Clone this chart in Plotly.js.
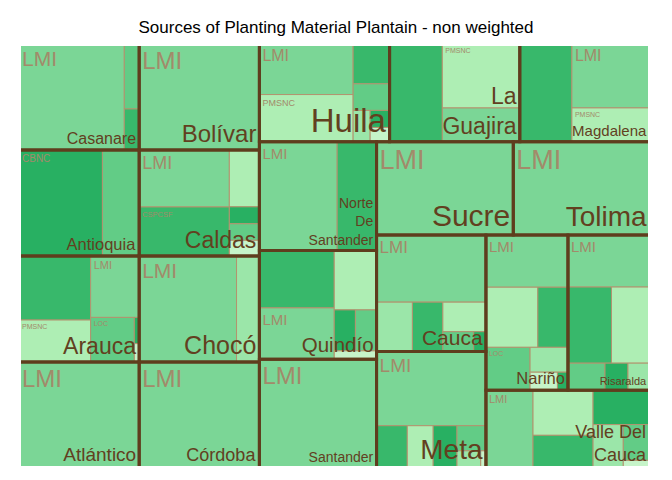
<!DOCTYPE html>
<html><head><meta charset="utf-8">
<script src="https://cdn.plot.ly/plotly-3.0.1.min.js"></script>
<style>html,body{margin:0;padding:0;background:#fff}#chart{width:672px;height:480px}</style>
</head><body><div id="chart"></div>
<script>
// ---------- data ----------
const departments = ['Casanare','Antioquia','Arauca','Atlántico','Bolívar','Caldas','Chocó','Córdoba','Huila','La Guajira','Magdalena','Norte De Santander','Quindío','Santander','Sucre','Tolima','Cauca','Meta','Nariño','Risaralda','Valle Del Cauca'];
const departmentText = ['Casanare','Antioquia','Arauca','Atlántico','Bolívar','Caldas','Chocó','Córdoba','Huila','La<br>Guajira','Magdalena','Norte<br>De<br>Santander','Quindío','Santander','Sucre','Tolima','Cauca','Meta','Nariño','Risaralda','Valle Del<br>Cauca'];

const leafDept = [
 'Casanare','Casanare','Casanare',
 'Antioquia','Antioquia',
 'Arauca','Arauca','Arauca','Arauca','Arauca','Arauca',
 'Atlántico',
 'Bolívar',
 'Caldas','Caldas','Caldas','Caldas','Caldas','Caldas',
 'Chocó','Chocó',
 'Córdoba',
 'Huila','Huila','Huila','Huila','Huila','Huila','Huila',
 'La Guajira','La Guajira','La Guajira',
 'Magdalena','Magdalena','Magdalena',
 'Norte De Santander','Norte De Santander',
 'Quindío','Quindío','Quindío','Quindío','Quindío','Quindío',
 'Santander',
 'Sucre',
 'Tolima',
 'Cauca','Cauca','Cauca','Cauca','Cauca','Cauca',
 'Meta','Meta','Meta','Meta','Meta','Meta','Meta',
 'Nariño','Nariño','Nariño','Nariño','Nariño','Nariño','Nariño',
 'Risaralda','Risaralda','Risaralda','Risaralda','Risaralda','Risaralda',
 'Valle Del Cauca','Valle Del Cauca','Valle Del Cauca','Valle Del Cauca','Valle Del Cauca','Valle Del Cauca','Valle Del Cauca'
];
const leafSource = [
 'LMI','LOC','CSPCSF',
 'CBNC','LOC',
 'CSPCSF','PMSNC','LMI','LOC','CBNC','Unknown',
 'LMI',
 'LMI',
 'LMI','CSPCSF','PMSNC','CBNC','LOC','Unknown',
 'LMI','Other',
 'LMI',
 'LMI','PMSNC','CSPCSF','LOC','Other','CBNC','Unknown',
 'CSPCSF','PMSNC','LMI',
 'CSPCSF','LMI','PMSNC',
 'LMI','CSPCSF',
 'CSPCSF','LMI','PMSNC','CBNC','LOC','Unknown',
 'LMI',
 'LMI',
 'LMI',
 'LMI','Other','CSPCSF','PMSNC','LOC','CBNC',
 'LMI','CSPCSF','PMSNC','CBNC','LOC','Other','Unknown',
 'LMI','PMSNC','CSPCSF','LOC','Other','Unknown','CBNC',
 'LMI','CSPCSF','PMSNC','LOC','CBNC','Other',
 'LMI','PMSNC','CSPCSF','CBNC','Other','LOC','Unknown'
];
const leafValue = [
 87.6,7.6,4.8,
 69.4,30.6,
 36.0,23.6,23.4,15.3,1.0,0.7,
 100,
 100,
 40.3,34.7,13.4,4.0,3.9,3.7,
 81,19,
 100,
 37.2,34.8,11.4,7.6,4.2,2.6,2.2,
 40.5,38.9,20.6,
 40.0,39.2,20.8,
 66.4,33.6,
 33.7,30.2,19.7,6.8,6.8,2.8,
 100,
 100,
 100,
 57.6,13.9,11.8,10.0,4.8,1.9,
 63.7,10.2,8.6,7.9,5.7,3.2,0.7,
 33.6,24.5,14.2,14.9,7.4,3.9,1.5,
 33.5,26.0,23.0,7.9,4.9,4.7,
 28.7,21.2,15.4,15.3,10.3,7.5,1.6
];

// ---------- styling ----------
const sourceColors = {CBNC:'#28b062', CSPCSF:'#38b86b', LOC:'#62cc86', LMI:'#7bd696', Other:'#9be6a9', PMSNC:'#aeeeb4', Unknown:'#c6f4c9'};
// label font size per leaf (0 = label not drawn)
const leafLabelSize = [
 21,0,0,
 10,0,
 0,7,11,7,0,0,
 24,
 24,
 18,7.5,0,0,0,0,
 21,0,
 24,
 16,9,0,0,0,0,0,
 0,7,0,
 0,16,7,
 15,0,
 0,15,0,0,0,0,
 24,
 27,
 27,
 17,0,0,0,0,0,
 19,0,0,0,0,0,0,
 15,0,0,7,0,0,0,
 15,0,0,0,0,0,
 11,0,0,0,0,0,0
];
const deptLabelSize = [16,16.5,23,19,24,23,25,18,33,23,15,14,20.5,14,30,28,21,28,16.5,11,18];

const leafTextColor = '#a28a6a';
const deptTextColor = '#62401f';
const deptLineColor = '#5f3d1d';
const leafLineColor = '#b3936f';
const FONT = 'Liberation Sans, Arial, sans-serif';

// ---------- build traces ----------
const ids = [], labels = [], parents = [], values = [], colors = [], texts = [], sizes = [], lws = [], lcs = [];
departments.forEach(d => {
  ids.push(d); labels.push(d); parents.push(''); values.push(0);
  colors.push(sourceColors.LMI); texts.push(''); sizes.push(10); lws.push(0); lcs.push(leafLineColor);
});
leafDept.forEach((d, i) => {
  ids.push(d + '/' + leafSource[i]); labels.push(leafSource[i]); parents.push(d);
  values.push(leafValue[i]); colors.push(sourceColors[leafSource[i]]);
  texts.push(leafLabelSize[i] ? leafSource[i] : ''); sizes.push(leafLabelSize[i] || 6);
  lws.push(1); lcs.push(leafLineColor);
});

const deptTotals = departments.map(d => leafDept.reduce((s, x, i) => x === d ? s + leafValue[i] : s, 0));

const leafTrace = {
  type: 'treemap', ids: ids, labels: labels, parents: parents, values: values,
  branchvalues: 'remainder', sort: false,
  text: texts, textinfo: 'text', textposition: 'top left',
  textfont: {family: FONT, size: sizes, color: leafTextColor},
  marker: {colors: colors, line: {width: lws, color: lcs}, pad: {t: 0, l: 0, r: 0, b: 0}, depthfade: false},
  leaf: {opacity: 1},
  tiling: {packing: 'squarify', squarifyratio: 1, pad: 0},
  pathbar: {visible: false},
  hoverinfo: 'label+value+text'
};

const deptTrace = {
  type: 'treemap', ids: departments, labels: departments, parents: departments.map(() => ''),
  values: deptTotals, sort: false,
  text: departmentText, textinfo: 'text', textposition: 'bottom right',
  textfont: {family: FONT, size: deptLabelSize, color: deptTextColor},
  marker: {colors: departments.map(() => 'rgba(0,0,0,0)'), line: {width: 3, color: deptLineColor}, pad: {t: 0, l: 0, r: 0, b: 0}, depthfade: false},
  leaf: {opacity: 1},
  tiling: {packing: 'squarify', squarifyratio: 1, pad: 0},
  pathbar: {visible: false},
  hoverinfo: 'skip'
};

// white mask over the outer edge of the panel (the reference has no outer frame)
const edgeMask = [
  {x0: -0.02, x1: 1.02, y0: 1, y1: 1}, {x0: -0.02, x1: 1.02, y0: 0, y1: 0},
  {x0: 0, x1: 0, y0: -0.02, y1: 1.02}, {x0: 1, x1: 1, y0: -0.02, y1: 1.02}
].map(s => Object.assign({type: 'line', xref: 'paper', yref: 'paper', layer: 'above', line: {color: '#ffffff', width: 4}}, s));

const layout = {
  width: 672, height: 480,
  margin: {l: 19, r: 22, t: 44, b: 12},
  paper_bgcolor: '#ffffff',
  font: {family: FONT},
  title: {text: 'Sources of Planting Material Plantain - non weighted', font: {family: FONT, size: 17, color: '#000000'}, x: 0.5, xanchor: 'center', y: 0.944, yanchor: 'middle'},
  shapes: edgeMask,
  showlegend: false
};

Plotly.newPlot('chart', [leafTrace, deptTrace], layout, {displayModeBar: false, staticPlot: true});
</script>
</body></html>
